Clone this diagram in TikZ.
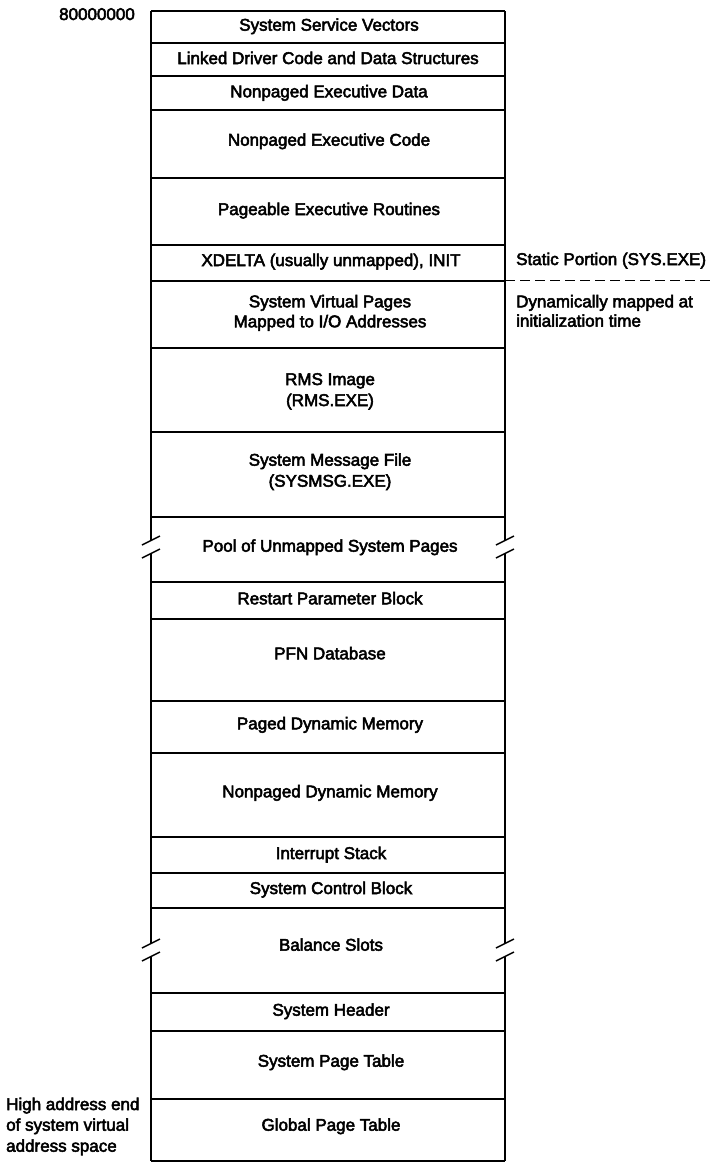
\documentclass[tikz,border=0pt]{standalone}
\usepackage{fontspec}
\setmainfont{Liberation Sans}
\newfontfamily\labelfont[RawFeature={embolden=3}]{Liberation Sans}
\begin{document}
\begin{tikzpicture}[x=1pt,y=-1pt,
  lbl/.style={font=\labelfont\fontsize{17}{21}\selectfont, inner sep=0pt, anchor=base},
  side/.style={lbl, anchor=base west},
  wall/.style={line width=1.6pt},
  brk/.style={line width=1.4pt}]
\useasboundingbox (0,0) rectangle (710,1163);

% horizontal cell boundaries of the system space map
\foreach \y in {11,43,76,110,178,245,280.7,348,432,517,582,619,700.7,753,837,873,908,993,1031,1099,1161}
  \draw[wall] (151,\y) -- (505,\y);

% side walls, interrupted at the two break marks
\foreach \x in {151,505} {
  \draw[wall] (\x,11) -- (\x,540.5);
  \draw[wall] (\x,553.5) -- (\x,943.5);
  \draw[wall] (\x,956.5) -- (\x,1161);
}

% break marks
\foreach \x in {151,505} {
  \draw[brk] (\x-9,545) -- (\x+9,536);
  \draw[brk] (\x-9,558) -- (\x+9,549);
  \draw[brk] (\x-9,948) -- (\x+9,939);
  \draw[brk] (\x-9,961) -- (\x+9,952);
}

% static / dynamic divider
\coordinate (divL) at (505,280.7);
\coordinate (divR) at (710,280.7);
\draw[line width=1.4pt, dash pattern=on 10pt off 5pt] (divL) -- (divR);

% cell labels
\node[lbl] (ssv)  at (329,30.7)  {System Service Vectors};
\node[lbl] (ldc)  at (328,64)    {Linked Driver Code and Data Structures};
\node[lbl] (ned)  at (329,97.3)  {Nonpaged Executive Data};
\node[lbl] (nec)  at (329,145.7) {Nonpaged Executive Code};
\node[lbl] (per)  at (329,215)   {Pageable Executive Routines};
\node[lbl] (xd)   at (331,266)   {XDELTA (usually unmapped), INIT};
\node[lbl] (svp1) at (330,307.3) {System Virtual Pages};
\node[lbl] (svp2) at (330,327.3) {Mapped to I/O Addresses};
\node[lbl] (rms1) at (330,385)   {RMS Image};
\node[lbl] (rms2) at (330,406)   {(RMS.EXE)};
\node[lbl] (msg1) at (330,465.7) {System Message File};
\node[lbl] (msg2) at (330,486.7) {(SYSMSG.EXE)};
\node[lbl] (pool) at (330,551.7) {Pool of Unmapped System Pages};
\node[lbl] (rpb)  at (330,604.3) {Restart Parameter Block};
\node[lbl] (pfn)  at (330,659.3) {PFN Database};
\node[lbl] (pdm)  at (330,729.3) {Paged Dynamic Memory};
\node[lbl] (npdm) at (330,797.3) {Nonpaged Dynamic Memory};
\node[lbl] (is)   at (331,859)   {Interrupt Stack};
\node[lbl] (scb)  at (331,894)   {System Control Block};
\node[lbl] (bal)  at (331,950.7) {Balance Slots};
\node[lbl] (sh)   at (331,1015.7){System Header};
\node[lbl] (spt)  at (331,1066.7){System Page Table};
\node[lbl] (gpt)  at (331,1130.7){Global Page Table};

% annotations outside the map
\node[lbl, anchor=base east] (addr) at (135,20) {80000000};
\node[side] (stat)  at (516,265)   {Static Portion (SYS.EXE)};
\node[side] (dyn1)  at (516,307.3) {Dynamically mapped at};
\node[side] (dyn2)  at (516,326.7) {initialization time};
\node[side] (hi1)   at (6,1110)    {High address end};
\node[side] (hi2)   at (6,1130.7)  {of system virtual};
\node[side] (hi3)   at (6,1151.7)  {address space};
\end{tikzpicture}
\end{document}
